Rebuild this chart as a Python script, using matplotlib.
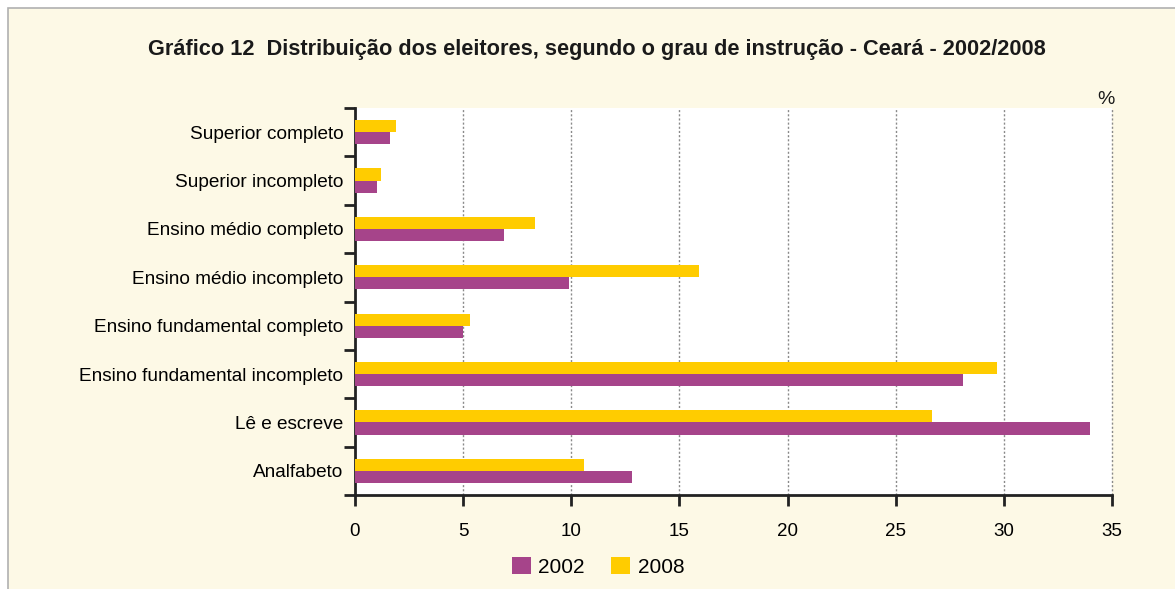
import matplotlib
matplotlib.use("Agg")
import matplotlib.pyplot as plt
from matplotlib import font_manager
import numpy as np

categories = ["Superior completo", "Superior incompleto", "Ensino médio completo",
              "Ensino médio incompleto", "Ensino fundamental completo",
              "Ensino fundamental incompleto", "Lê e escreve", "Analfabeto"]
v2002 = [1.6, 1.0, 6.9, 9.9, 5.0, 28.1, 34.0, 12.8]
v2008 = [1.9, 1.2, 8.3, 15.9, 5.3, 29.7, 26.7, 10.6]
xticks = [0, 5, 10, 15, 20, 25, 30, 35]

names = {f.name for f in font_manager.fontManager.ttflist}
fam = ["Liberation Sans Narrow", "Liberation Sans", "DejaVu Sans"]
fam = [f for f in fam if f in names] + ["DejaVu Sans"]
plt.rcParams['font.family'] = fam

c2002 = "#a6448a"
c2008 = "#ffcc00"
cream = "#fdf9e6"

fig = plt.figure(figsize=(11.75, 5.89), dpi=100, facecolor="white")
bg = plt.Rectangle((8/1175, -0.01), 1.01 - 8/1175, 1.01 - 8/589, transform=fig.transFigure,
                   facecolor=cream, edgecolor="#b0b0b0", linewidth=1.2, zorder=-10)
fig.patches.append(bg)

ax = fig.add_axes([355/1175, 1 - 495/589, (1112 - 355)/1175, (495 - 108)/589])
ax.set_facecolor("white")

y = np.arange(len(categories))
h = 0.25
ax.barh(y - h/2, v2008, height=h, color=c2008, label="2008", zorder=3)
ax.barh(y + h/2, v2002, height=h, color=c2002, label="2002", zorder=3)

ax.set_ylim(len(categories) - 0.5, -0.5)
ax.set_xlim(0, 35)
ax.set_xticks(xticks)
ax.set_xticklabels([str(t) for t in xticks], fontsize=13.5)
ax.set_yticks(y)
ax.set_yticklabels(categories, fontsize=13.7)
ax.set_yticks(np.arange(-0.5, len(categories), 1), minor=True)
ax.tick_params(axis="y", which="major", length=0, pad=8.5)
ax.tick_params(axis="y", which="minor", length=8, width=2, direction="out", color="#222222")
ax.tick_params(axis="x", which="major", length=8, width=2, direction="out", color="#222222", pad=12)

for s in ["top", "right"]:
    ax.spines[s].set_visible(False)
for s in ["left", "bottom"]:
    ax.spines[s].set_linewidth(2)
    ax.spines[s].set_color("#222222")

for t in xticks[1:]:
    ax.axvline(t, color="#8a8a8a", linestyle=(0, (1.5, 1.5)), linewidth=1, zorder=1, clip_on=False)

fig.text(597/1175, 1 - 50/589, "Gráfico 12  Distribuição dos eleitores, segundo o grau de instrução - Ceará - 2002/2008",
         ha="center", va="center", fontsize=15.7, fontweight="bold", color="#1a1a1a")
fig.text(1106/1175, 1 - 100/589, "%", ha="center", va="center", fontsize=14, color="#1a1a1a")

handles, labels = ax.get_legend_handles_labels()
leg = fig.legend([handles[1], handles[0]], ["2002", "2008"], loc="center",
                 bbox_to_anchor=(598/1175, 1 - 567/589), ncol=2, frameon=False,
                 fontsize=15, handlelength=0.9, handleheight=0.9, columnspacing=1.3,
                 handletextpad=0.35)

fig.savefig("out.png", dpi=100, facecolor=fig.get_facecolor())
